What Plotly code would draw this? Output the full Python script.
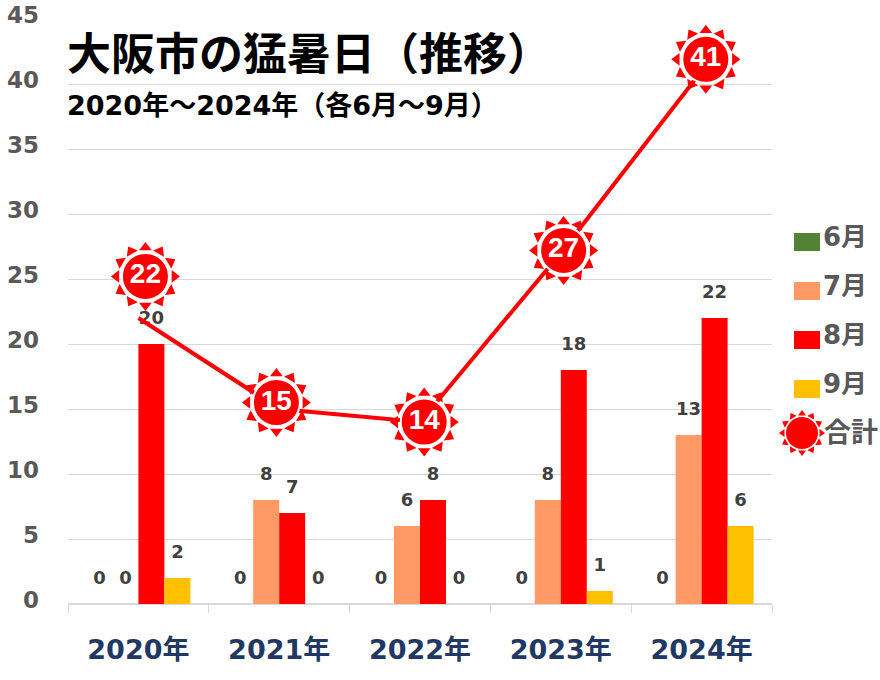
import math

import plotly.graph_objects as go

years = ["2020年", "2021年", "2022年", "2023年", "2024年"]
june = [0, 0, 0, 0, 0]
july = [0, 8, 6, 8, 13]
august = [20, 7, 8, 18, 22]
september = [2, 0, 0, 1, 6]
totals = [22, 15, 14, 27, 41]
y_ticks = [0, 5, 10, 15, 20, 25, 30, 35, 40, 45]

# the suns sit a little off the line in the original, read separately
sun_x = [0.05, 0.98, 2.03, 3.02, 4.03]
sun_y = [25.2, 15.5, 14.0, 27.2, 41.9]

months = ["6月", "7月", "8月", "9月"]
month_values = [june, july, august, september]
month_colors = ["#548235", "#FF9966", "#FF0000", "#FFC000"]

FONT = "DejaVu Sans, Noto Sans CJK JP, sans-serif"
LEFT, RIGHT, TOP, BOTTOM = 68, 772, 19, 604
PX_X = (RIGHT - LEFT) / 5
PX_Y = (BOTTOM - TOP) / 45
BAR = 26 / PX_X


def paper_x(px):
    return (px - LEFT) / (RIGHT - LEFT)


def paper_y(px):
    return (BOTTOM - px) / (BOTTOM - TOP)


def add_sun(fig, cx, cy, label):
    angles = [i * 30 for i in range(12)]
    fig.add_trace(go.Scatter(
        x=[cx + 29 * math.sin(math.radians(a)) / PX_X for a in angles],
        y=[cy + 29 * math.cos(math.radians(a)) / PX_Y for a in angles],
        mode="markers",
        marker=dict(symbol="triangle-up", size=11, color="#FF0000", angle=angles, line_width=0),
        cliponaxis=False, hoverinfo="skip", showlegend=False,
    ))
    fig.add_trace(go.Scatter(
        x=[cx], y=[cy],
        mode="markers+text",
        marker=dict(size=47, color="#FF0000", line=dict(color="white", width=2)),
        text=[label],
        textposition="middle center",
        textfont=dict(family="Liberation Sans, sans-serif", size=28, color="white", weight="bold"),
        cliponaxis=False, hoverinfo="skip", showlegend=False,
    ))


def add_legend_sun(fig, cx, cy):
    # markers outside the axis range get hidden, so this one is a paper shape
    for i in range(12):
        a = math.radians(i * 30)
        base_x, base_y = cx + 17.5 * math.sin(a), cy - 17.5 * math.cos(a)
        tip_x, tip_y = cx + 23 * math.sin(a), cy - 23 * math.cos(a)
        side_x, side_y = 4 * math.cos(a), 4 * math.sin(a)
        path = "M {} {} L {} {} L {} {} Z".format(
            paper_x(base_x - side_x), paper_y(base_y - side_y),
            paper_x(base_x + side_x), paper_y(base_y + side_y),
            paper_x(tip_x), paper_y(tip_y),
        )
        fig.add_shape(type="path", path=path, xref="paper", yref="paper", fillcolor="#FF0000", line_width=0)
    fig.add_shape(type="circle", xref="paper", yref="paper", fillcolor="#FF0000", line_width=0,
                  x0=paper_x(cx - 16), x1=paper_x(cx + 16), y0=paper_y(cy + 16), y1=paper_y(cy - 16))


fig = go.Figure()

xs = list(range(len(years)))
for name, values, color in zip(months, month_values, month_colors):
    fig.add_trace(go.Bar(x=xs, y=values, name=name, marker_color=color, marker_line_width=0, showlegend=False))

# bar labels stand well clear of the bars, so they get their own text trace
for m, values in enumerate(month_values):
    fig.add_trace(go.Scatter(
        x=[i + (m - 1.5) * BAR for i in xs],
        y=[v + 1.85 for v in values],
        mode="text",
        text=[str(v) for v in values],
        textposition="middle center",
        textfont=dict(family=FONT, size=18, color="#404040", weight="bold"),
        hoverinfo="skip", showlegend=False,
    ))

fig.add_trace(go.Scatter(
    x=xs, y=totals, mode="lines", name="合計",
    line=dict(color="#FF0000", width=4), showlegend=False,
))

for x, y, total in zip(sun_x, sun_y, totals):
    add_sun(fig, x, y, str(total))
add_legend_sun(fig, 802, 433)

# y labels sit 4px above their gridlines in the original, axis ticks cannot do that
for v in y_ticks:
    fig.add_annotation(text=str(v), xref="paper", yref="y", x=paper_x(41), y=v, yshift=4,
                       xanchor="right", yanchor="middle", showarrow=False,
                       font=dict(family=FONT, size=23, color="#595959", weight="bold"))

# legend drawn by hand: plotly's own swatches cannot take this size
legend_y = [242, 291, 340, 389]
for name, color, y in zip(months, month_colors, legend_y):
    fig.add_shape(type="rect", xref="paper", yref="paper", line_width=0, fillcolor=color,
                  x0=paper_x(794), x1=paper_x(820), y0=paper_y(y - 9), y1=paper_y(y + 9))
    fig.add_annotation(text=name, xref="paper", yref="paper", x=paper_x(821), y=paper_y(y - 5),
                       xanchor="left", yanchor="middle", showarrow=False,
                       font=dict(family=FONT, size=26, color="#595959", weight="bold"))
fig.add_annotation(text="合計", xref="paper", yref="paper", x=paper_x(822), y=paper_y(433),
                   xanchor="left", yanchor="middle", showarrow=False,
                   font=dict(family=FONT, size=27, color="#595959", weight="bold"))

fig.add_annotation(text="大阪市の猛暑日（推移）", xref="paper", yref="paper", x=paper_x(65), y=paper_y(54),
                   xanchor="left", yanchor="middle", showarrow=False,
                   font=dict(family=FONT, size=44, color="black", weight="bold"))
fig.add_annotation(text="2020年～2024年（各6月～9月）", xref="paper", yref="paper", x=paper_x(65), y=paper_y(105),
                   xanchor="left", yanchor="middle", showarrow=False,
                   font=dict(family=FONT, size=27, color="black", weight="bold"))

fig.update_layout(
    width=880, height=680,
    margin=dict(l=LEFT, r=880 - RIGHT, t=TOP, b=680 - BOTTOM, autoexpand=False),
    paper_bgcolor="white", plot_bgcolor="white",
    barmode="group", bargap=1 - 4 * BAR, bargroupgap=0,
    showlegend=False,
    xaxis=dict(
        range=[-0.5, 4.5], tickvals=xs, ticktext=years, ticks="", showgrid=False,
        showline=True, linecolor="#D9D9D9", linewidth=1, zeroline=False,
        tickfont=dict(family=FONT, size=27, color="#1F3864", weight="bold"),
        ticklabelstandoff=22,
        minor=dict(tickvals=[i - 0.5 for i in range(6)], ticks="outside", ticklen=8,
                   tickcolor="#D9D9D9", tickwidth=1, showgrid=False),
    ),
    yaxis=dict(
        range=[0, 45], tickvals=y_ticks, showgrid=True, gridcolor="#D9D9D9", gridwidth=1,
        zeroline=True, zerolinecolor="#D9D9D9", ticks="", showticklabels=False,
    ),
)

fig.write_html("out.html", config=dict(displayModeBar=False),
               post_script="document.body.style.margin = '0';")
